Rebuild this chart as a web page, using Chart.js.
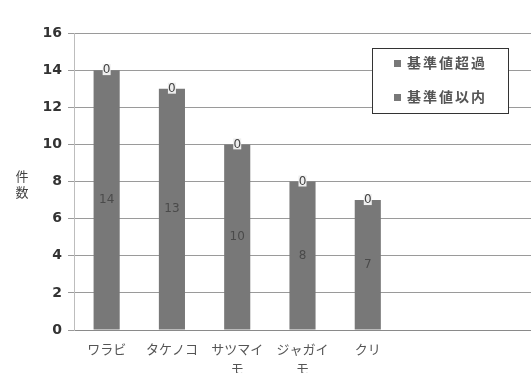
<!DOCTYPE html>
<html>
<head>
<meta charset="utf-8">
<script src="https://cdn.jsdelivr.net/npm/chart.js@4"></script>
<style>
  html, body { margin: 0; padding: 0; background: #fff; }
  #wrap { width: 531px; height: 373px; }
</style>
</head>
<body>
<div id="wrap"><canvas id="chart"></canvas></div>
<script>
// --- data ---
const categories = ['ワラビ', 'タケノコ', ['サツマイ', 'モ'], ['ジャガイ', 'モ'], 'クリ'];
const overLimit = [0, 0, 0, 0, 0];      // 基準値超過
const withinLimit = [14, 13, 10, 8, 7]; // 基準値以内
const yTicks = [0, 2, 4, 6, 8, 10, 12, 14, 16];

const jpFont = '"Noto Sans CJK JP", "DejaVu Sans", sans-serif';

// two empty slots on the right so the bars sit where they do in the original
const labels = categories.concat(['', '']);

// value labels on the bars + the vertical axis title + boxed legend
const extras = {
    id: 'extras',
    afterDatasetsDraw(chart) {
        const ctx = chart.ctx;
        ctx.save();
        ctx.textAlign = 'center';
        ctx.textBaseline = 'middle';

        // middle labels (基準値以内)
        const inner = chart.getDatasetMeta(0);
        ctx.font = '12px "DejaVu Sans", sans-serif';
        ctx.fillStyle = '#4a4a4a';
        inner.data.forEach((bar, i) => {
            ctx.fillText(String(withinLimit[i]), bar.x, (bar.y + bar.base) / 2);
        });

        // top labels (基準値超過, always 0)
        const outer = chart.getDatasetMeta(1);
        ctx.font = '12px "DejaVu Sans", sans-serif';
        outer.data.forEach((bar, i) => {
            ctx.fillStyle = '#eeeeee';
            ctx.fillRect(bar.x - 4, bar.y - 6, 8, 11);
            ctx.fillStyle = '#444';
            ctx.fillText(String(overLimit[i]), bar.x, bar.y);
        });

        // y axis title, stacked characters
        ctx.font = '13px ' + jpFont;
        ctx.fillStyle = '#444';
        ctx.fillText('件', 22, 176);
        ctx.fillText('数', 22, 192);

        // legend box
        ctx.strokeStyle = '#333';
        ctx.lineWidth = 1;
        ctx.fillStyle = '#fff';
        ctx.fillRect(372.5, 48.5, 136, 65);
        ctx.strokeRect(372.5, 48.5, 136, 65);
        ctx.textAlign = 'left';
        ctx.font = 'bold 14px ' + jpFont;
        ctx.letterSpacing = '2px';
        const items = [chart.data.datasets[1], chart.data.datasets[0]];
        items.forEach((ds, k) => {
            const y = 63 + k * 34;
            ctx.fillStyle = ds.backgroundColor;
            ctx.fillRect(394, y - 3, 7, 7);
            ctx.fillStyle = '#555';
            ctx.fillText(ds.label, 407, y);
        });
        ctx.restore();
    }
};

new Chart(document.getElementById('chart'), {
    type: 'bar',
    data: {
        labels: labels,
        datasets: [
            {
                label: '基準値以内',
                data: withinLimit,
                backgroundColor: '#787878',
                barPercentage: 0.4,
                categoryPercentage: 1
            },
            {
                label: '基準値超過',
                data: overLimit,
                backgroundColor: '#787878',
                barPercentage: 0.4,
                categoryPercentage: 1
            }
        ]
    },
    options: {
        responsive: true,
        maintainAspectRatio: false,
        animation: false,
        layout: { padding: { top: 33, right: 0, left: 0, bottom: 0 } },
        plugins: {
            legend: { display: false },
            tooltip: { enabled: false }
        },
        scales: {
            x: {
                stacked: true,
                grid: { display: false },
                border: { color: '#8a8a8a' },
                ticks: {
                    color: '#555',
                    font: { family: jpFont, size: 13, lineHeight: 1.5 },
                    maxRotation: 0,
                    autoSkip: false,
                    padding: 1
                },
                afterFit(scale) { scale.height = 43; }
            },
            y: {
                stacked: true,
                min: 0,
                max: 16,
                afterBuildTicks(scale) {
                    scale.ticks = yTicks.map(v => ({ value: v }));
                },
                grid: { color: '#9a9a9a', tickLength: 6 },
                border: { color: '#bdbdbd' },
                ticks: {
                    color: '#333',
                    font: { family: '"DejaVu Sans", sans-serif', size: 14, weight: 'bold' },
                    padding: 6
                },
                afterFit(scale) { scale.width = 74; }
            }
        }
    },
    plugins: [extras]
});
</script>
</body>
</html>
